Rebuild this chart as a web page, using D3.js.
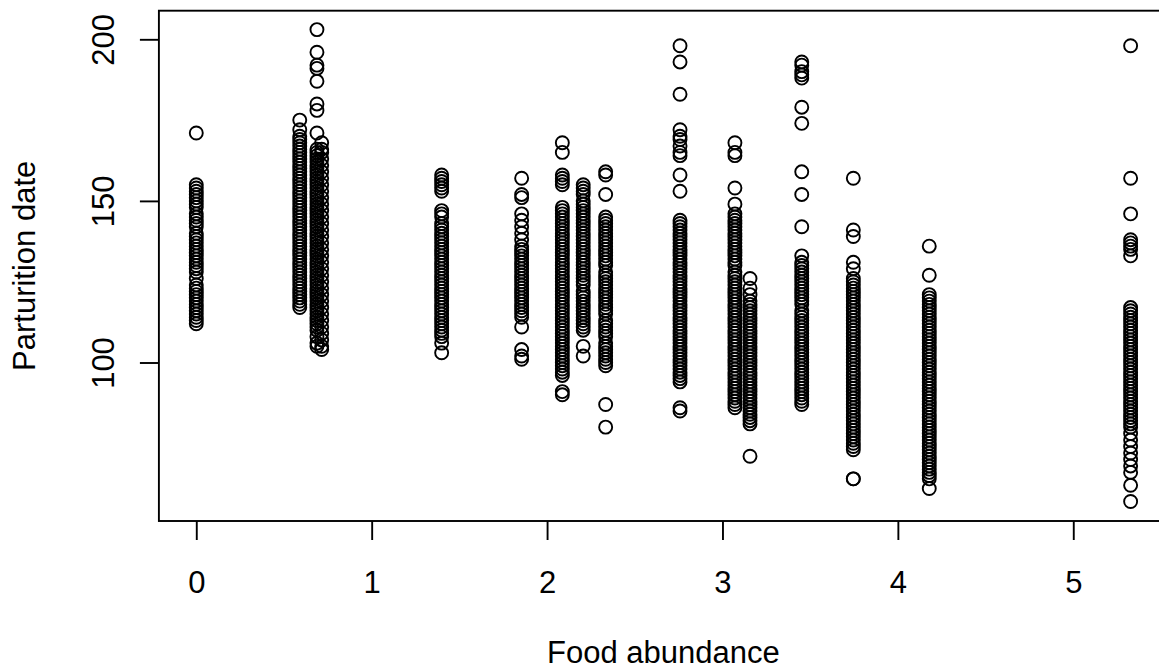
<!DOCTYPE html>
<html>
<head>
<meta charset="utf-8">
<script src="https://cdn.jsdelivr.net/npm/d3@7"></script>
<style>
  body { margin: 0; background: #fff; }
  svg { display: block; }
  text { font-family: "Liberation Sans", Arial, Helvetica, sans-serif; fill: #000; }
</style>
</head>
<body>
<div id="chart"></div>
<script>
// food abundance level of each column of points
var foodLevels = [0, 0.59, 0.688, 0.715, 1.399, 1.855, 2.087, 2.206, 2.334,
                  2.758, 3.071, 3.157, 3.452, 3.746, 4.179, 5.327];

// parturition dates read for each food level (same order as foodLevels)
var dates00 = [171, 155, 154, 153, 152, 151, 150, 149, 148, 146, 145, 144, 143, 142, 140, 139, 138,
  137, 136, 135, 134, 133, 132, 131, 130, 129, 128, 126, 124, 123, 122, 121, 120, 119, 118, 117,
  116, 115, 114, 113, 112];
var dates01 = [175, 172, 170, 169, 168, 167, 166, 165, 164, 163, 162, 161, 160, 159, 158, 157, 156,
  155, 154, 153, 152, 151, 150, 149, 148, 147, 146, 145, 144, 143, 142, 141, 140, 139, 138, 137,
  136, 135, 134, 133, 132, 131, 130, 129, 128, 127, 126, 125, 124, 123, 122, 121, 120, 119, 118, 117];
var dates02 = [203, 196, 192, 191, 187, 180, 178, 171, 166, 165, 164, 163, 162, 161, 160, 159, 158,
  157, 156, 155, 154, 153, 152, 151, 150, 149, 148, 147, 146, 145, 144, 143, 142, 141, 140, 139,
  138, 137, 136, 135, 134, 133, 132, 131, 130, 129, 128, 127, 126, 125, 124, 123, 122, 121, 120,
  119, 118, 117, 116, 115, 114, 113, 112, 111, 110, 108, 106, 105];
var dates03 = [168, 166, 165, 163, 161, 159, 157, 155, 153, 151, 149, 147, 145, 143, 141, 139, 137,
  135, 133, 131, 129, 127, 125, 123, 121, 119, 117, 115, 113, 111, 109, 107, 105, 104];
var dates04 = [158, 157, 156, 155, 154, 153, 147, 146, 145, 143, 142, 141, 140, 139, 138, 137, 136,
  135, 134, 133, 132, 131, 130, 129, 128, 127, 126, 125, 124, 123, 122, 121, 120, 119, 118, 117,
  116, 115, 114, 113, 112, 111, 110, 109, 108, 106, 103];
var dates05 = [157, 152, 151, 146, 144, 142, 140, 138, 136, 135, 134, 133, 132, 131, 130, 129, 128,
  127, 126, 125, 124, 123, 122, 121, 120, 119, 118, 117, 116, 115, 114, 111, 104, 102, 101];
var dates06 = [168, 165, 158, 157, 156, 155, 148, 147, 146, 145, 144, 143, 142, 141, 140, 139, 138,
  137, 136, 135, 134, 133, 132, 131, 130, 129, 128, 127, 126, 125, 124, 123, 122, 121, 120, 119,
  118, 117, 116, 115, 114, 113, 112, 111, 110, 109, 108, 107, 106, 105, 104, 103, 102, 101, 100,
  99, 98, 97, 96, 91, 90];
var dates07 = [155, 154, 153, 152, 150, 149, 148, 147, 146, 145, 144, 143, 142, 141, 140, 139, 138,
  137, 136, 135, 134, 133, 132, 131, 130, 129, 128, 127, 126, 125, 124, 122, 121, 120, 119, 118,
  117, 116, 115, 114, 113, 112, 111, 110, 105, 102];
var dates08 = [159, 158, 152, 145, 144, 143, 142, 141, 140, 139, 138, 137, 136, 135, 134, 133, 132,
  131, 130, 128, 127, 126, 125, 124, 123, 122, 121, 120, 119, 118, 117, 116, 115, 113, 112, 111,
  110, 109, 108, 106, 105, 104, 103, 102, 101, 100, 99, 87, 80];
var dates09 = [198, 193, 183, 172, 170, 169, 167, 165, 164, 158, 153, 144, 143, 142, 141, 140, 139,
  138, 137, 136, 135, 134, 133, 132, 131, 130, 129, 128, 127, 126, 125, 124, 123, 122, 121, 120,
  119, 118, 117, 116, 115, 114, 113, 112, 111, 110, 109, 108, 107, 106, 105, 104, 103, 102, 101,
  100, 99, 98, 97, 96, 95, 94, 86, 85];
var dates10 = [168, 165, 164, 154, 149, 146, 145, 144, 143, 142, 141, 140, 139, 138, 137, 136, 135,
  134, 133, 132, 131, 130, 128, 127, 126, 125, 124, 123, 122, 121, 120, 119, 118, 117, 116, 115,
  114, 113, 112, 111, 110, 109, 108, 107, 106, 105, 104, 103, 102, 101, 100, 99, 98, 97, 96, 95,
  94, 93, 92, 91, 90, 89, 88, 87, 86];
var dates11 = [126, 123, 121, 119, 118, 117, 116, 115, 114, 113, 112, 111, 110, 109, 108, 107, 106,
  105, 104, 103, 102, 101, 100, 99, 98, 97, 96, 95, 94, 93, 92, 91, 90, 89, 88, 87, 86, 85, 84,
  83, 82, 81, 71];
var dates12 = [193, 192, 190, 189, 188, 179, 174, 159, 152, 142, 133, 131, 130, 129, 128, 127, 126,
  125, 124, 123, 122, 121, 120, 119, 118, 116, 115, 114, 113, 112, 111, 110, 109, 108, 107, 106,
  105, 104, 103, 102, 101, 100, 99, 98, 97, 96, 95, 94, 93, 92, 91, 90, 89, 88, 87];
var dates13 = [157, 141, 139, 131, 129, 126, 125, 124, 123, 122, 121, 120, 119, 118, 117, 116, 115,
  114, 113, 112, 111, 110, 109, 108, 107, 106, 105, 104, 103, 102, 101, 100, 99, 98, 97, 96, 95,
  94, 93, 92, 91, 90, 89, 88, 87, 86, 85, 84, 83, 82, 81, 80, 79, 78, 77, 76, 75, 74, 73, 64, 64];
var dates14 = [136, 127, 121, 120, 119, 118, 117, 116, 115, 114, 113, 112, 111, 110, 109, 108, 107,
  106, 105, 104, 103, 102, 101, 100, 99, 98, 97, 96, 95, 94, 93, 92, 91, 90, 89, 88, 87, 86, 85,
  84, 83, 82, 81, 80, 79, 78, 77, 76, 75, 74, 73, 72, 71, 70, 69, 68, 67, 66, 65, 64, 61];
var dates15 = [198, 157, 146, 138, 137, 136, 135, 133, 117, 116, 115, 114, 113, 112, 111, 110, 109,
  108, 107, 106, 105, 104, 103, 102, 101, 100, 99, 98, 97, 96, 95, 94, 93, 92, 91, 90, 89, 88, 87,
  86, 85, 84, 83, 82, 81, 80, 78, 76, 74, 72, 70, 68, 66, 62, 57];

var allDates = [dates00, dates01, dates02, dates03, dates04, dates05, dates06, dates07,
                dates08, dates09, dates10, dates11, dates12, dates13, dates14, dates15];

// tick labels
var xTicks = [0, 1, 2, 3, 4, 5];
var yTicks = [100, 150, 200];

var xLabel = 'Food abundance',
    yLabel = 'Parturition date';

function Scatterplot(){
  var W = 1159, H = 670;
  //plot region, right edge runs off the page like in the original
  var m = {l:158.9, r:1168, t:10.7, b:521};
  var lw = 1.9;

  var exports = function(selection){
    var data = selection.datum();

    var x = d3.scaleLinear().domain([-0.2131, 5.5401]).range([m.l, m.r]),
        y = d3.scaleLinear().domain([50.96, 208.85]).range([m.b, m.t]);

    var svg = selection.append('svg')
        .attr('width', W)
        .attr('height', H);

    //points
    svg.append('g').attr('class','points')
      .selectAll('circle')
      .data(data)
      .enter().append('circle')
      .attr('cx', function(d){ return x(d.food); })
      .attr('cy', function(d){ return y(d.date); })
      .attr('r', 6.5)
      .attr('fill', 'none')
      .attr('stroke', '#000')
      .attr('stroke-width', lw);

    //x axis
    var gx = svg.append('g')
        .attr('transform', 'translate(0,' + m.b + ')')
        .call(d3.axisBottom(x).tickValues(xTicks).tickSize(19).tickFormat(d3.format('d')));
    gx.select('.domain').remove();
    gx.selectAll('line').attr('stroke-width', lw);
    gx.selectAll('text')
        .attr('y', 71.7)
        .attr('dy', null)
        .style('font-size', '31px');

    //y axis, labels parallel to the axis
    var gy = svg.append('g')
        .attr('transform', 'translate(' + m.l + ',0)')
        .call(d3.axisLeft(y).tickValues(yTicks).tickSize(19));
    gy.select('.domain').remove();
    gy.selectAll('line').attr('stroke-width', lw);
    gy.selectAll('text')
        .attr('x', null)
        .attr('dy', null)
        .attr('text-anchor', 'middle')
        .attr('transform', 'translate(-44.6,0) rotate(-90)')
        .style('font-size', '31px');

    //box round the plot region
    svg.append('rect')
        .attr('x', m.l)
        .attr('y', m.t)
        .attr('width', m.r - m.l)
        .attr('height', m.b - m.t)
        .attr('fill', 'none')
        .attr('stroke', '#000')
        .attr('stroke-width', lw);

    //titles
    svg.append('text')
        .attr('x', (m.l + m.r) / 2)
        .attr('y', 663)
        .attr('text-anchor', 'middle')
        .style('font-size', '31px')
        .text(xLabel);

    svg.append('text')
        .attr('transform', 'translate(35,' + (m.t + m.b) / 2 + ') rotate(-90)')
        .attr('text-anchor', 'middle')
        .style('font-size', '31px')
        .text(yLabel);
  };
  return exports;
}

var points = [];
foodLevels.forEach(function(f, i){
  allDates[i].forEach(function(d){ points.push({food: f, date: d}); });
});

d3.select('#chart').datum(points).call(Scatterplot());
</script>
</body>
</html>
